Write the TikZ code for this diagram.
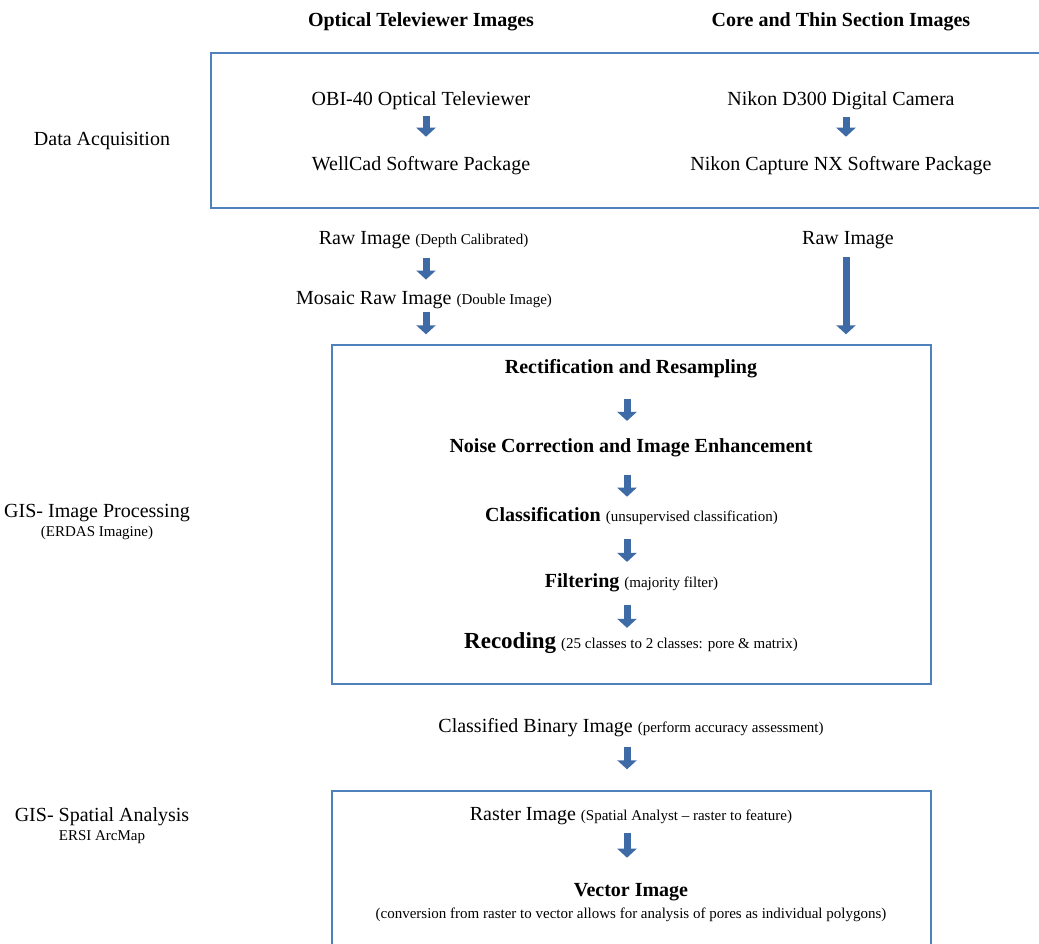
\documentclass[tikz,border=0pt]{standalone}
\usepackage{fontspec}
\setmainfont{Liberation Serif}
\usetikzlibrary{arrows.meta}

\definecolor{boxblue}{RGB}{79,129,189}
\definecolor{arrowblue}{RGB}{62,106,166}
\newcommand\paren[1]{{\fontsize{15}{17}\selectfont #1}}

\tikzset{
  txt/.style={font=\fontsize{20}{23}\selectfont, inner sep=0pt, anchor=base},
  head/.style={txt, font=\bfseries\fontsize{20}{23}\selectfont},
  side/.style={font=\fontsize{20}{23}\selectfont, inner sep=0pt, align=center},
  stagebox/.style={draw=boxblue, line width=1.4pt, inner sep=0pt},
  blockarrow/.style={draw=arrowblue, line width=7pt, -{Triangle[width=19pt,length=9pt]}}
}

\begin{document}
\begin{tikzpicture}[x=1pt, y=-1pt]
\useasboundingbox (0,0) rectangle (1039,944);
\clip (0,0) rectangle (1039,944);

% boxes
\node[stagebox, minimum width=834pt, minimum height=155pt] (acq) at (628,130.5) {};
\node[stagebox, minimum width=599pt, minimum height=339pt] (proc) at (631.5,514.5) {};
\node[stagebox, minimum width=599pt, minimum height=169pt] (spat) at (631.5,875.5) {};

% column heads and side labels
\node[head] (otv) at (421,27) {Optical Televiewer Images};
\node[head] (core) at (841,27) {Core and Thin Section Images};
\node[side] (daq) at (102,141) {Data Acquisition};
\node[side] (gisip) at (97,522) {GIS- Image Processing\\[-4pt] \paren{(ERDAS Imagine)}};
\node[side] (gissa) at (102,826) {GIS- Spatial Analysis\\[-4pt] \paren{ERSI ArcMap}};

% data acquisition
\node[txt] (obi) at (421,106) {OBI-40 Optical Televiewer};
\node[txt] (wellcad) at (421,171) {WellCad Software Package};
\node[txt] (nikon) at (841,106) {Nikon D300 Digital Camera};
\node[txt] (capture) at (841,171) {Nikon Capture NX Software Package};

\node[txt] (rawa) at (423.5,245) {Raw Image \paren{(Depth Calibrated)}};
\node[txt] (mosaic) at (424,304) {Mosaic Raw Image \paren{(Double Image)}};
\node[txt] (rawb) at (848,244) {Raw Image};

% image processing
\node[head] (rect) at (631,373) {Rectification and Resampling};
\node[head] (noise) at (631,452) {Noise Correction and Image Enhancement};
\node[txt] (classif) at (631.5,521) {\textbf{Classification} \paren{(unsupervised classification)}};
\node[txt] (filt) at (631.5,587) {\textbf{Filtering} \paren{(majority filter)}};
\node[txt] (recod) at (631,648.5) {{\fontsize{23}{26}\selectfont\textbf{Recoding}} \paren{(25 classes to 2 classes: pore \& matrix)}};

\node[txt] (binary) at (631,732) {Classified Binary Image \paren{(perform accuracy assessment)}};

% spatial analysis
\node[txt] (raster) at (631,820) {Raster Image \paren{(Spatial Analyst -- raster to feature)}};
\node[head] (vector) at (631,896) {Vector Image};
\node[txt] (conv) at (631,918) {\paren{(conversion from raster to vector allows for analysis of pores as individual polygons)}};

\path
  ([xshift=5pt]obi.south) edge[blockarrow, shorten <=6pt, shorten >=20pt] ([xshift=5pt]obi.south |- wellcad.north)
  ([xshift=5pt]nikon.south) edge[blockarrow, shorten <=6pt, shorten >=20pt] ([xshift=5pt]nikon.south |- capture.north)
  ([xshift=2.5pt]rawa.south) edge[blockarrow, shorten <=8pt, shorten >=11pt] ([xshift=2.5pt]rawa.south |- mosaic.north)
  ([xshift=2pt]mosaic.south) edge[blockarrow, shorten <=3pt, shorten >=10pt] ([xshift=2pt]mosaic.south |- proc.north)
  ([xshift=-2pt]rawb.south) edge[blockarrow, shorten <=8pt, shorten >=10pt] ([xshift=-2pt]rawb.south |- proc.north)
  ([xshift=-4pt]rect.south) edge[blockarrow, shorten <=21pt, shorten >=17pt] ([xshift=-4pt]rect.south |- noise.north)
  ([xshift=-4pt]noise.south) edge[blockarrow, shorten <=18pt, shorten >=10pt] ([xshift=-4pt]noise.south |- classif.north)
  ([xshift=-4.5pt]classif.south) edge[blockarrow, shorten <=15pt, shorten >=11pt] ([xshift=-4.5pt]classif.south |- filt.north)
  ([xshift=-4.5pt]filt.south) edge[blockarrow, shorten <=13pt, shorten >=4.5pt] ([xshift=-4.5pt]filt.south |- recod.north)
  ([xshift=-4pt]binary.south) edge[blockarrow, shorten <=10pt, shorten >=21pt] ([xshift=-4pt]binary.south |- spat.north)
  ([xshift=-4pt]raster.south) edge[blockarrow, shorten <=8pt, shorten >=25pt] ([xshift=-4pt]raster.south |- vector.north)
  ;
\end{tikzpicture}
\end{document}
